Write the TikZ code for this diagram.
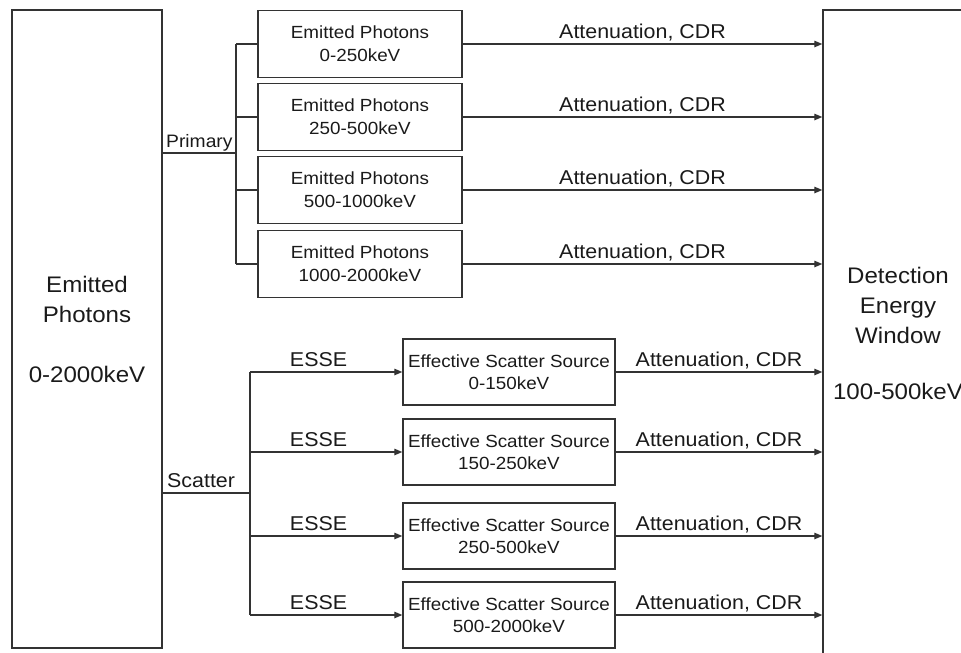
\documentclass[tikz,border=0pt]{standalone}
\usepackage{fontspec}
\setmainfont{Liberation Sans}[FakeStretch=1.07]
\usetikzlibrary{arrows.meta}
\definecolor{linecol}{HTML}{333333}
\definecolor{txtcol}{HTML}{1A1A1A}
\begin{document}
\begin{tikzpicture}[x=1pt,y=-1pt,
  every node/.style={text=txtcol},
  bigbox/.style={draw=linecol, line width=1.4pt, align=center, inner sep=0pt,
    font=\fontsize{22.5}{30}\selectfont},
  photbox/.style={draw=linecol, line width=1.4pt, minimum width=204pt, minimum height=67pt,
    inner sep=0pt, align=center, font=\fontsize{17.6}{23}\selectfont},
  scatbox/.style={draw=linecol, line width=1.4pt, minimum width=212pt, minimum height=66pt,
    inner sep=0pt, align=center, font=\fontsize{17.6}{22}\selectfont},
  conn/.style={draw=linecol, line width=1.3pt},
  arr/.style={conn, -{Triangle[length=8pt,width=6.5pt]}},
  lab/.style={font=\fontsize{20}{24}\selectfont, inner sep=0pt, anchor=base, yshift=5.5pt}]

\useasboundingbox (0,0) rectangle (961,653);
\clip (0,0) rectangle (961,653);

% main boxes
\node[bigbox, minimum width=150pt, minimum height=638pt] (L) at (87,329)
  {Emitted\\Photons\\[30pt]0-2000keV};
\node[bigbox, minimum width=150pt, minimum height=646pt] (R) at (898,333)
  {Detection\\Energy\\Window\\[26pt]100-500keV};

% primary boxes
\node[photbox] (t1) at (360,44)  {Emitted Photons\\0-250keV};
\node[photbox] (t2) at (360,117) {Emitted Photons\\250-500keV};
\node[photbox] (t3) at (360,190) {Emitted Photons\\500-1000keV};
\node[photbox] (t4) at (360,264) {Emitted Photons\\1000-2000keV};

% scatter boxes
\node[scatbox] (s1) at (509,372) {Effective Scatter Source\\0-150keV};
\node[scatbox] (s2) at (509,452) {Effective Scatter Source\\150-250keV};
\node[scatbox] (s3) at (509,536) {Effective Scatter Source\\250-500keV};
\node[scatbox] (s4) at (509,615) {Effective Scatter Source\\500-2000keV};

% primary branch
\coordinate (pj) at (236,153);
\draw[conn] (L.east |- pj) -- node[lab, font=\fontsize{18}{22}\selectfont]{Primary} (pj);
\draw[conn] (pj |- t1) -- (pj |- t4);
\foreach \b in {t1,t2,t3,t4}{
  \draw[conn] (pj |- \b) -- (\b.west);
  \draw[arr] (\b.east) -- node[lab]{Attenuation, CDR} (\b.east -| R.west);
}

% scatter branch
\coordinate (sj) at (250,493);
\draw[conn] (L.east |- sj) -- node[lab, pos=0.44]{Scatter} (sj);
\draw[conn] (sj |- s1) -- (sj |- s4);
\foreach \b in {s1,s2,s3,s4}{
  \draw[arr] (sj |- \b) -- node[lab, pos=0.45]{ESSE} (\b.west);
  \draw[arr] (\b.east) -- node[lab]{Attenuation, CDR} (\b.east -| R.west);
}
\end{tikzpicture}
\end{document}
